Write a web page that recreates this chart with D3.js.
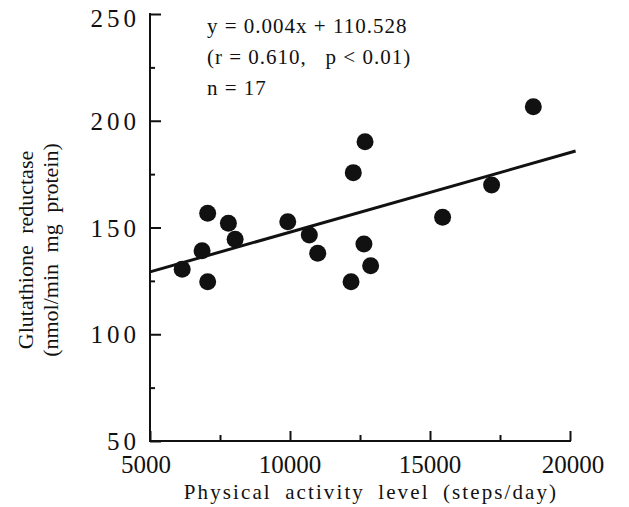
<!DOCTYPE html>
<html>
<head>
<meta charset="utf-8">
<script src="https://cdn.jsdelivr.net/npm/d3@7"></script>
<style>
  body { margin: 0; background: #fff; }
</style>
</head>
<body>
<div id="chart"></div>
<script>
// steps/day and glutathione reductase
const steps = [6150, 6860, 7060, 7060, 7800, 8040, 9920, 10690, 10990, 12180, 12260, 12680, 12640, 12880, 15450, 17200, 18690];
const gr = [130.4, 139.1, 124.6, 156.7, 152.0, 144.5, 152.7, 146.5, 137.9, 124.6, 175.7, 190.2, 142.3, 132.1, 154.8, 169.9, 206.6];

// regression line as drawn
const fitX = [5000, 20200];
const fitY = [129.2, 185.8];

const xMajor = [5000, 10000, 15000, 20000];
const xMinor = [7500, 12500, 17500];
const yMajor = [50, 100, 150, 200, 250];
const yMinor = [75, 125, 175, 225];

const notes = ["y = 0.004x + 110.528", "(r = 0.610,\u00a0\u00a0 p < 0.01)", "n = 17"];

const FONT = "'Liberation Serif', 'Times New Roman', Times, serif";
const width = 629, height = 507;
const x = d3.scaleLinear().domain([5000, 20000]).range([150, 570]);
const y = d3.scaleLinear().domain([50, 250]).range([441, 14]);

const svg = d3.select("#chart").append("svg")
  .attr("width", width)
  .attr("height", height)
  .style("display", "block");

// axes: ticks point inward
const yAxis = d3.axisRight(y).tickValues(yMajor).tickSize(11).tickFormat("");
const yAxisMinor = d3.axisRight(y).tickValues(yMinor).tickSize(5).tickFormat("");
const xAxis = d3.axisTop(x).tickValues(xMajor).tickSize(10).tickFormat("");
const xAxisMinor = d3.axisTop(x).tickValues(xMinor).tickSize(6).tickFormat("");

[[yAxis, `translate(${x(5000)},0)`], [yAxisMinor, `translate(${x(5000)},0)`],
 [xAxis, `translate(0,${y(50)})`], [xAxisMinor, `translate(0,${y(50)})`]].forEach(([ax, tr]) => {
  const g = svg.append("g").attr("transform", tr).call(ax);
  g.select(".domain").remove();
  g.selectAll(".tick line").attr("stroke", "#111").attr("stroke-width", 2);
});

// axis lines
svg.append("line").attr("x1", x(5000)).attr("x2", x(5000)).attr("y1", y(250) - 1).attr("y2", y(50) + 1)
  .attr("stroke", "#111").attr("stroke-width", 2);
svg.append("line").attr("x1", x(5000) - 1).attr("x2", x(20000) + 1).attr("y1", y(50)).attr("y2", y(50))
  .attr("stroke", "#111").attr("stroke-width", 2);

// tick labels
svg.append("g").selectAll("text")
  .data(yMajor)
  .join("text")
  .attr("x", x(5000) - 10)
  .attr("y", d => y(d) + (d === 250 ? 13 : 9))
  .attr("text-anchor", "end")
  .attr("font-family", FONT)
  .attr("font-size", 25)
  .attr("letter-spacing", 4)
  .attr("fill", "#111")
  .text(d => d);

svg.append("g").selectAll("text")
  .data(xMajor)
  .join("text")
  .attr("x", d => x(d) - (d === 5000 ? 4 : 0) + (d === 20000 ? 3 : 0))
  .attr("y", 473)
  .attr("text-anchor", "middle")
  .attr("font-family", FONT)
  .attr("font-size", 25)
  .attr("fill", "#111")
  .text(d => d);

// axis titles
svg.append("text")
  .attr("x", 371)
  .attr("y", 499)
  .attr("text-anchor", "middle")
  .attr("font-family", FONT)
  .attr("font-size", 21)
  .attr("letter-spacing", 2.1)
  .attr("word-spacing", 6)
  .attr("fill", "#111")
  .text("Physical activity level (steps/day)");

const yTitle = svg.append("g").attr("transform", "translate(0,250) rotate(-90)");
yTitle.append("text")
  .attr("x", 0).attr("y", 33)
  .attr("text-anchor", "middle")
  .attr("font-family", FONT)
  .attr("font-size", 22)
  .attr("word-spacing", 6)
  .attr("fill", "#111")
  .text("Glutathione reductase");
yTitle.append("text")
  .attr("x", 0).attr("y", 58)
  .attr("text-anchor", "middle")
  .attr("font-family", FONT)
  .attr("font-size", 22)
  .attr("word-spacing", 6)
  .attr("fill", "#111")
  .text("(nmol/min mg protein)");

// regression line
svg.append("line")
  .attr("x1", x(fitX[0])).attr("y1", y(fitY[0]))
  .attr("x2", x(fitX[1])).attr("y2", y(fitY[1]))
  .attr("stroke", "#111")
  .attr("stroke-width", 3);

// points
svg.append("g").selectAll("circle")
  .data(steps.map((s, i) => [s, gr[i]]))
  .join("circle")
  .attr("cx", d => x(d[0]))
  .attr("cy", d => y(d[1]))
  .attr("r", 8.5)
  .attr("fill", "#111");

// equation block
svg.append("g").selectAll("text")
  .data(notes)
  .join("text")
  .attr("x", 207)
  .attr("y", (d, i) => 33 + i * 31)
  .attr("font-family", FONT)
  .attr("font-size", 21)
  .attr("letter-spacing", 1)
  .attr("fill", "#111")
  .text(d => d);
</script>
</body>
</html>
